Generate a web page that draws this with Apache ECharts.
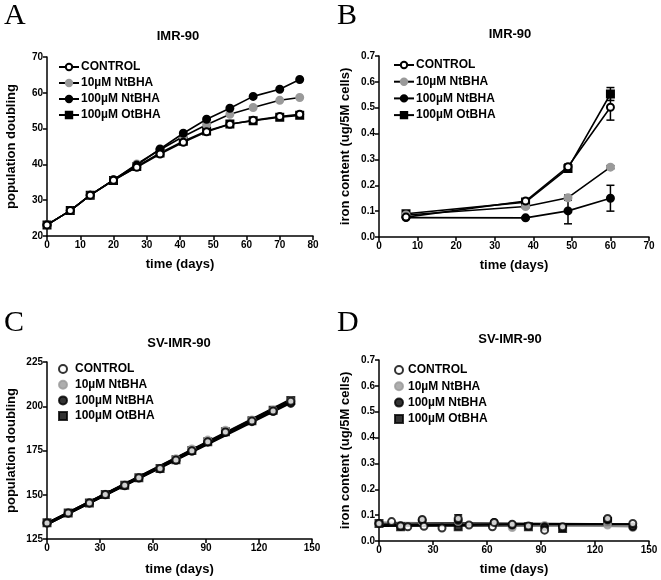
<!DOCTYPE html>
<html><head><meta charset="utf-8">
<script src="https://cdn.jsdelivr.net/npm/echarts@6/dist/echarts.min.js"></script>
<style>html,body{margin:0;padding:0;background:#fff}#c{width:661px;height:580px}</style>
</head><body><div id="c"></div>
<script>
// ---------- DATA ----------
const seriesNames = ['CONTROL', '10µM NtBHA', '100µM NtBHA', '100µM OtBHA'];

// Panel A: IMR-90 population doubling
const aDays = [0, 7, 13, 20, 27, 34, 41, 48, 55, 62, 70, 76];
const aControl = [23.1, 27.1, 31.4, 35.6, 39.2, 42.9, 46.2, 49.1, 51.2, 52.3, 53.4, 54.0];
const a10Nt = [23.1, 27.1, 31.4, 35.7, 40.1, 44.1, 47.8, 51.1, 54.0, 55.9, 57.9, 58.7];
const a100Nt = [23.1, 27.1, 31.4, 35.7, 39.8, 44.3, 48.7, 52.6, 55.7, 59.0, 61.0, 63.7];
const a100Ot = [23.1, 27.1, 31.4, 35.5, 39.4, 43.2, 46.5, 49.3, 51.3, 52.2, 53.2, 53.7];

// Panel B: IMR-90 iron content
const bDays = [7, 38, 49, 60];
const bControl = [0.077, 0.139, 0.272, 0.502];
const bControlErr = [0.005, 0.008, 0.010, 0.050];
const b10Nt = [0.085, 0.118, 0.152, 0.270];
const b10NtErr = [0.004, 0.005, 0.010, 0.006];
const b100Nt = [0.075, 0.074, 0.101, 0.150];
const b100NtErr = [0.004, 0.004, 0.050, 0.050];
const b100Ot = [0.090, 0.135, 0.265, 0.553];
const b100OtErr = [0.005, 0.006, 0.008, 0.025];

// Panel C: SV-IMR-90 population doubling
const cDays = [0, 12, 24, 33, 44, 52, 64, 73, 82, 91, 101, 116, 128, 138];
const cControl = [134.1, 139.7, 145.4, 150.2, 155.3, 159.6, 164.8, 169.6, 174.8, 179.9, 185.5, 191.6, 197.3, 202.8];
const c10Nt = [134.1, 139.7, 145.5, 150.3, 155.4, 159.7, 164.9, 170.3, 175.9, 180.9, 186.5, 192.3, 197.8, 203.0];
const c100Nt = [134.0, 139.6, 145.3, 150.0, 155.1, 159.4, 164.6, 169.5, 174.6, 179.7, 185.2, 191.3, 197.0, 201.6];
const c100Ot = [134.2, 139.7, 145.4, 150.2, 155.3, 159.6, 164.8, 169.8, 175.0, 180.0, 185.6, 191.8, 197.8, 203.3];

// Panel D: SV-IMR-90 iron content
const dControlDays = [0, 7, 12, 16, 24, 25, 35, 44, 50, 63, 64, 74, 83, 92, 102, 127, 141];
const dControl = [0.068, 0.075, 0.058, 0.055, 0.083, 0.057, 0.050, 0.087, 0.062, 0.055, 0.072, 0.065, 0.058, 0.042, 0.055, 0.087, 0.068];
const d10NtDays = [0, 12, 24, 44, 64, 74, 92, 127, 141];
const d10Nt = [0.068, 0.060, 0.075, 0.075, 0.070, 0.052, 0.060, 0.062, 0.052];
const d100NtDays = [0, 12, 24, 44, 64, 74, 92, 127, 141];
const d100Nt = [0.068, 0.058, 0.080, 0.080, 0.072, 0.062, 0.055, 0.082, 0.055];
const d100OtDays = [0, 12, 44, 83, 102, 127];
const d100Ot = [0.068, 0.055, 0.055, 0.055, 0.048, 0.075];
const dControlErrDay = [44];
const dControlErrVal = [0.087];
const dControlErr = [0.014];

// ---------- HELPERS ----------
const FONT = 'Liberation Sans';
const zip = (xs, ys) => xs.map((x, i) => [x, ys[i]]);
function linfit(xs, ys) {
  const n = xs.length;
  const mx = xs.reduce((a, b) => a + b, 0) / n;
  const my = ys.reduce((a, b) => a + b, 0) / n;
  let sxy = 0, sxx = 0;
  for (let i = 0; i < n; i++) { sxy += (xs[i] - mx) * (ys[i] - my); sxx += (xs[i] - mx) ** 2; }
  const k = sxy / sxx, b = my - k * mx;
  const x0 = Math.min(...xs), x1 = Math.max(...xs);
  return [[x0, k * x0 + b], [x1, k * x1 + b]];
}
const styles = [
  { symbol: 'circle', color: '#ffffff', border: '#000000' },
  { symbol: 'circle', color: '#9a9a9a', border: '#9a9a9a' },
  { symbol: 'circle', color: '#000000', border: '#000000' },
  { symbol: 'rect', color: '#000000', border: '#000000' }
];
const zOrder = [6, 4, 5, 3];

function axisBase(extra) {
  return Object.assign({
    axisLine: { show: true, onZero: false, lineStyle: { color: '#000', width: 1.5 } },
    axisTick: { show: true, inside: false, length: 4, lineStyle: { color: '#000', width: 1.5 } },
    axisLabel: { color: '#000', fontFamily: FONT, fontWeight: 'bold', fontSize: 10, margin: 4 },
    splitLine: { show: false },
    nameTextStyle: { color: '#000', fontFamily: FONT, fontWeight: 'bold', fontSize: 13 },
    nameLocation: 'middle'
  }, extra);
}

const grids = [
  { left: 47, top: 57, width: 266, height: 179 },
  { left: 379, top: 56, width: 270, height: 181 },
  { left: 47, top: 362, width: 265, height: 177 },
  { left: 379, top: 360, width: 270, height: 181 }
];

const xAxes = [
  axisBase({ gridIndex: 0, type: 'value', min: 0, max: 80, interval: 10, name: 'time (days)', nameGap: 22 }),
  axisBase({ gridIndex: 1, type: 'value', min: 0, max: 70, interval: 10, name: 'time (days)', nameGap: 22 }),
  axisBase({ gridIndex: 2, type: 'value', min: 0, max: 150, interval: 30, name: 'time (days)', nameGap: 24 }),
  axisBase({ gridIndex: 3, type: 'value', min: 0, max: 150, interval: 30, name: 'time (days)', nameGap: 22 })
];
const yAxes = [
  axisBase({ gridIndex: 0, type: 'value', min: 20, max: 70, interval: 10, name: 'population doubling', nameGap: 29, nameRotate: 90 }),
  axisBase({ gridIndex: 1, type: 'value', min: 0, max: 0.7, interval: 0.1, name: 'iron content (ug/5M cells)', nameGap: 27, nameRotate: 90,
    axisLabel: { color: '#000', fontFamily: FONT, fontWeight: 'bold', fontSize: 10, margin: 4, formatter: v => v.toFixed(1) } }),
  axisBase({ gridIndex: 2, type: 'value', min: 125, max: 225, interval: 25, name: 'population doubling', nameGap: 29, nameRotate: 90 }),
  axisBase({ gridIndex: 3, type: 'value', min: 0, max: 0.7, interval: 0.1, name: 'iron content (ug/5M cells)', nameGap: 27, nameRotate: 90,
    axisLabel: { color: '#000', fontFamily: FONT, fontWeight: 'bold', fontSize: 10, margin: 4, formatter: v => v.toFixed(1) } })
];

const series = [];
function lineSeries(panel, idx, xs, ys) {
  const s = styles[idx];
  series.push({
    name: panel + ':' + seriesNames[idx], type: 'line', xAxisIndex: 'ABCD'.indexOf(panel), yAxisIndex: 'ABCD'.indexOf(panel),
    data: zip(xs, ys), symbol: s.symbol, symbolSize: 7, z: zOrder[idx],
    lineStyle: { color: '#000', width: 1.6 },
    itemStyle: { color: s.color, borderColor: s.border, borderWidth: 2 }
  });
}
function scatterSeries(panel, idx, xs, ys, fitColor) {
  const s = styles[idx];
  const gi = 'ABCD'.indexOf(panel);
  series.push({
    name: panel + ':' + seriesNames[idx], type: 'scatter', xAxisIndex: gi, yAxisIndex: gi,
    data: zip(xs, ys), symbol: s.symbol, symbolSize: 7, z: zOrder[idx] + 2,
    itemStyle: { color: s.color, borderColor: s.border, borderWidth: 2 }
  });
  series.push({
    name: panel + ':fit' + idx, type: 'line', xAxisIndex: gi, yAxisIndex: gi,
    data: linfit(xs, ys), showSymbol: false, symbol: 'none', z: 2,
    lineStyle: { color: fitColor, width: panel === 'C' ? 3 : 2 }
  });
}
function errorSeries(panel, xs, ys, errs) {
  const gi = 'ABCD'.indexOf(panel);
  series.push({
    type: 'custom', xAxisIndex: gi, yAxisIndex: gi, z: 1,
    data: xs.map((x, i) => [x, ys[i], errs[i]]),
    renderItem: (params, api) => {
      const x = api.value(0), y = api.value(1), e = api.value(2);
      const top = api.coord([x, y + e]), bot = api.coord([x, y - e]);
      const w = 4;
      const st = { stroke: '#000', lineWidth: 1.5 };
      return { type: 'group', children: [
        { type: 'line', shape: { x1: top[0], y1: top[1], x2: bot[0], y2: bot[1] }, style: st },
        { type: 'line', shape: { x1: top[0] - w, y1: top[1], x2: top[0] + w, y2: top[1] }, style: st },
        { type: 'line', shape: { x1: bot[0] - w, y1: bot[1], x2: bot[0] + w, y2: bot[1] }, style: st }
      ] };
    }
  });
}

// Panel A
lineSeries('A', 3, aDays, a100Ot);
lineSeries('A', 1, aDays, a10Nt);
lineSeries('A', 2, aDays, a100Nt);
lineSeries('A', 0, aDays, aControl);
// Panel B
errorSeries('B', bDays, bControl, bControlErr);
errorSeries('B', bDays, b10Nt, b10NtErr);
errorSeries('B', bDays, b100Nt, b100NtErr);
errorSeries('B', bDays, b100Ot, b100OtErr);
lineSeries('B', 3, bDays, b100Ot);
lineSeries('B', 1, bDays, b10Nt);
lineSeries('B', 2, bDays, b100Nt);
lineSeries('B', 0, bDays, bControl);
// Panel C
scatterSeries('C', 3, cDays, c100Ot, '#000');
scatterSeries('C', 1, cDays, c10Nt, '#000');
scatterSeries('C', 2, cDays, c100Nt, '#000');
scatterSeries('C', 0, cDays, cControl, '#000');
// Panel D
errorSeries('D', dControlErrDay, dControlErrVal, dControlErr);
scatterSeries('D', 3, d100OtDays, d100Ot, '#000');
scatterSeries('D', 2, d100NtDays, d100Nt, '#000');
scatterSeries('D', 1, d10NtDays, d10Nt, '#8a8a8a');
scatterSeries('D', 0, dControlDays, dControl, '#000');

function legend(panel, left, top, itemWidth, itemGap, textPad) {
  return {
    data: seriesNames.map(n => panel + ':' + n), orient: 'vertical', left: left, top: top,
    itemWidth: itemWidth, itemHeight: 8, itemGap: itemGap, selectedMode: false,
    formatter: n => n.split(':')[1],
    textStyle: { color: '#000', fontFamily: FONT, fontWeight: 'bold', fontSize: 12, padding: [0, 0, 0, textPad] },
    padding: 0
  };
}

const titleStyle = { color: '#000', fontFamily: FONT, fontWeight: 'bold', fontSize: 13 };
const letterFont = '30px "Liberation Serif"';
const option = {
  animation: false,
  backgroundColor: '#fff',
  grid: grids,
  xAxis: xAxes,
  yAxis: yAxes,
  series: series,
  legend: [
    legend('A', 58, 61, 20, 4, -3),
    legend('B', 393, 59, 20, 4.7, -3),
    legend('C', 58, 363, 8, 3.7, 3),
    legend('D', 394, 364, 8, 4.3, 0)
  ],
  title: [
    { text: 'IMR-90', left: 178, top: 30, textAlign: 'center', textStyle: titleStyle, padding: 0 },
    { text: 'IMR-90', left: 510, top: 28, textAlign: 'center', textStyle: titleStyle, padding: 0 },
    { text: 'SV-IMR-90', left: 179, top: 337, textAlign: 'center', textStyle: titleStyle, padding: 0 },
    { text: 'SV-IMR-90', left: 510, top: 333, textAlign: 'center', textStyle: titleStyle, padding: 0 }
  ],
  graphic: [
    { type: 'text', left: 4, top: 1, style: { text: 'A', fill: '#000', font: letterFont } },
    { type: 'text', left: 337, top: 1, style: { text: 'B', fill: '#000', font: letterFont } },
    { type: 'text', left: 4, top: 308, style: { text: 'C', fill: '#000', font: letterFont } },
    { type: 'text', left: 337, top: 308, style: { text: 'D', fill: '#000', font: letterFont } }
  ]
};
const chart = echarts.init(document.getElementById('c'), null, { renderer: 'canvas' });
chart.setOption(option);
</script></body></html>
